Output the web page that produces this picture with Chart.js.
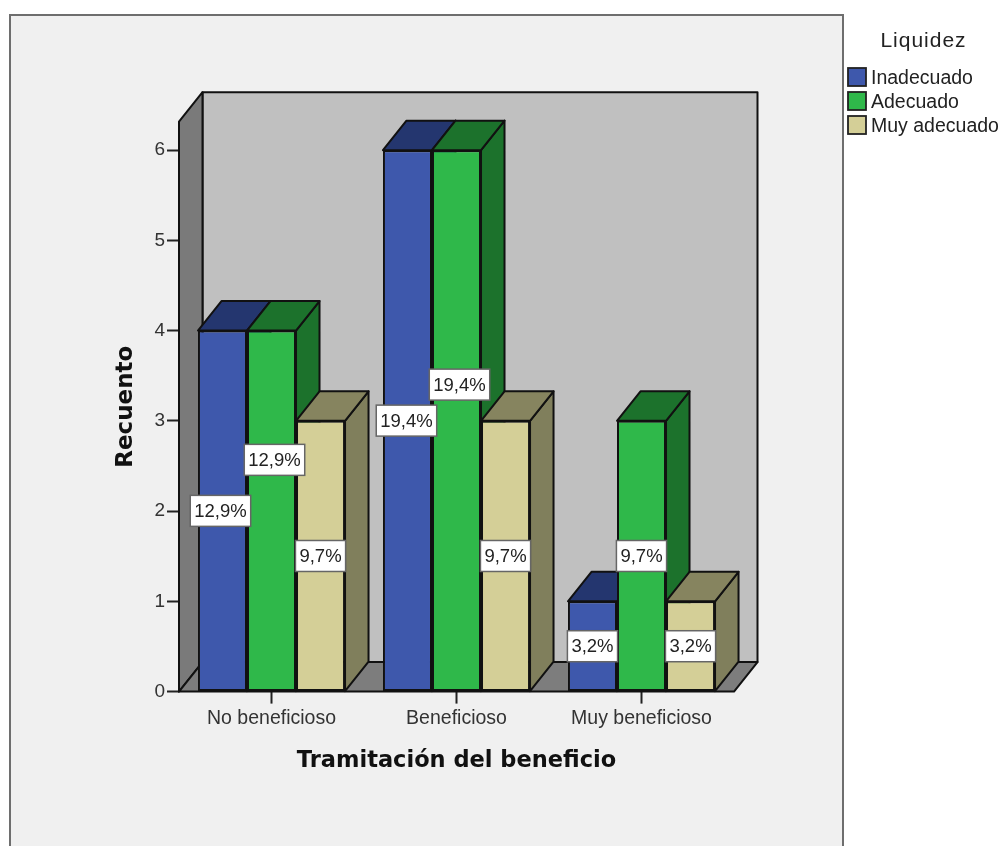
<!DOCTYPE html>
<html>
<head>
<meta charset="utf-8">
<title>Recuento</title>
<script src="https://cdn.jsdelivr.net/npm/chart.js@4"></script>
<style>
html, body { margin: 0; padding: 0; background: #fff; overflow: hidden; }
#wrap { width: 1000px; height: 846px; position: relative; }
</style>
</head>
<body>
<div id="wrap"><canvas id="chart" width="1000" height="846"></canvas></div>
<script>
const categories = ['No beneficioso', 'Beneficioso', 'Muy beneficioso'];
const seriesNames = ['Inadecuado', 'Adecuado', 'Muy adecuado'];
const inadecuado = [4, 6, 1];
const adecuado = [4, 6, 3];
const muyAdecuado = [3, 3, 1];
const inadecuadoPct = ['12,9%', '19,4%', '3,2%'];
const adecuadoPct = ['12,9%', '19,4%', '9,7%'];
const muyAdecuadoPct = ['9,7%', '9,7%', '3,2%'];
const yTicks = [0, 1, 2, 3, 4, 5, 6];

const FRONT = ['#3e58ac', '#2fb84a', '#d4cf97'];
const TOP = ['#24366f', '#1c722c', '#86845f'];
const SIDE = ['#24366f', '#1c722c', '#807f5c'];
const pcts = [inadecuadoPct, adecuadoPct, muyAdecuadoPct];
const DX = 23.5, DY = 29.5; // depth of the fake 3D
const LINE = '#111';

// labels that would collide get pushed away from the bar centre, [series][category]
const NUDGE = [
    [[-2, 0], [-1, 0], [0, 0]],
    [[3, -51], [3, -36], [0, 0]],
    [[0, 0], [0, 0], [0, 0]]
];

function poly(ctx, pts, fill) {
    ctx.beginPath();
    ctx.moveTo(pts[0][0], pts[0][1]);
    pts.slice(1).forEach(p => ctx.lineTo(p[0], p[1]));
    ctx.closePath();
    ctx.fillStyle = fill;
    ctx.fill();
    ctx.lineWidth = 2;
    ctx.strokeStyle = LINE;
    ctx.lineJoin = 'round';
    ctx.stroke();
}

const scene = {
    id: 'scene',
    beforeDraw(chart) {
        const ctx = chart.ctx;
        // grey panel, runs off the bottom of the picture
        ctx.save();
        ctx.fillStyle = '#f0f0f0';
        ctx.fillRect(10, 15, 833, 840);
        ctx.strokeStyle = '#6e6e6e';
        ctx.lineWidth = 2;
        ctx.strokeRect(10, 15, 833, 840);
        ctx.restore();
    },
    beforeDatasetsDraw(chart) {
        const ctx = chart.ctx;
        const a = chart.chartArea;
        ctx.save();
        // walls
        poly(ctx, [[a.left + DX, a.top - DY], [a.right + DX, a.top - DY], [a.right + DX, a.bottom - DY], [a.left + DX, a.bottom - DY]], '#c0c0c0');
        poly(ctx, [[a.left, a.top], [a.left + DX, a.top - DY], [a.left + DX, a.bottom - DY], [a.left, a.bottom]], '#7a7a7a');
        poly(ctx, [[a.left, a.bottom], [a.left + DX, a.bottom - DY], [a.right + DX, a.bottom - DY], [a.right, a.bottom]], '#7d7d7d');
        // top and side faces of the bars, left to right
        categories.forEach((c, i) => {
            chart.data.datasets.forEach((ds, d) => {
                const el = chart.getDatasetMeta(d).data[i];
                const l = el.x - el.width / 2, r = el.x + el.width / 2;
                poly(ctx, [[r, el.y], [r + DX, el.y - DY], [r + DX, el.base - DY], [r, el.base]], SIDE[d]);
                poly(ctx, [[l, el.y], [l + DX, el.y - DY], [r + DX, el.y - DY], [r, el.y]], TOP[d]);
            });
        });
        ctx.restore();
    },
    afterDatasetsDraw(chart) {
        const ctx = chart.ctx;
        ctx.save();
        // percent labels
        ctx.font = '18.5px "Liberation Sans"';
        ctx.textAlign = 'center';
        ctx.textBaseline = 'middle';
        chart.data.datasets.forEach((ds, d) => {
            chart.getDatasetMeta(d).data.forEach((el, i) => {
                const w = ctx.measureText(pcts[d][i]).width + 8;
                const cx = el.x + NUDGE[d][i][0], cy = (el.y + el.base) / 2 + NUDGE[d][i][1];
                ctx.fillStyle = '#fff';
                ctx.fillRect(cx - w / 2, cy - 15.5, w, 31);
                ctx.strokeStyle = '#666';
                ctx.lineWidth = 1.5;
                ctx.strokeRect(cx - w / 2, cy - 15.5, w, 31);
                ctx.fillStyle = '#222';
                ctx.fillText(pcts[d][i], cx, cy + 1);
            });
        });
        // legend
        ctx.textAlign = 'left';
        ctx.font = '19.5px "Liberation Sans"';
        chart.data.datasets.forEach((ds, d) => {
            const y = 77 + d * 24;
            ctx.fillStyle = FRONT[d];
            ctx.fillRect(848, y - 9, 18, 18);
            ctx.strokeStyle = '#222';
            ctx.lineWidth = 1.8;
            ctx.strokeRect(848, y - 9, 18, 18);
            ctx.fillStyle = '#222';
            ctx.fillText(ds.label, 871, y + 1.5);
        });
        ctx.textAlign = 'center';
        ctx.font = '21px "Liberation Sans"';
        ctx.letterSpacing = '1px';
        ctx.fillText('Liquidez', 923.5, 41);
        ctx.restore();
    }
};

function bars(name, values, d) {
    return {
        label: name,
        data: values,
        backgroundColor: FRONT[d],
        borderColor: LINE,
        borderWidth: 2,
        borderSkipped: false,
        barPercentage: 1,
        categoryPercentage: 0.795
    };
}

new Chart(document.getElementById('chart'), {
    type: 'bar',
    data: {
        labels: categories,
        datasets: [
            bars(seriesNames[0], inadecuado, 0),
            bars(seriesNames[1], adecuado, 1),
            bars(seriesNames[2], muyAdecuado, 2)
        ]
    },
    plugins: [scene],
    options: {
        responsive: false,
        animation: false,
        layout: { padding: { left: 0, right: 266, top: 121.7, bottom: 0 } },
        plugins: { legend: { display: false }, tooltip: { enabled: false } },
        scales: {
            x: {
                afterFit(s) { s.height = 154.4; },
                grid: { offset: false, drawOnChartArea: false, color: '#222', tickLength: 12, tickWidth: 2 },
                border: { display: false },
                ticks: { color: '#333', font: { family: 'Liberation Sans', size: 19.5 }, padding: 3.5, maxRotation: 0 },
                title: {
                    display: true,
                    text: 'Tramitación del beneficio',
                    color: '#111',
                    font: { family: 'DejaVu Sans', size: 22.5, weight: 'bold' },
                    padding: { top: 0, bottom: 71 }
                }
            },
            y: {
                min: 0,
                max: 6.315,
                afterFit(s) { s.width = 179; },
                afterBuildTicks(s) { s.ticks = yTicks.map(v => ({ value: v })); },
                grid: { drawOnChartArea: false, color: '#222', tickLength: 12, tickWidth: 2 },
                border: { display: false },
                ticks: { color: '#333', font: { family: 'Liberation Sans', size: 19 }, padding: 2 },
                title: {
                    display: true,
                    text: 'Recuento',
                    color: '#111',
                    font: { family: 'DejaVu Sans', size: 23, weight: 'bold' },
                    padding: { top: 112, bottom: 0 }
                }
            }
        }
    }
});
</script>
</body>
</html>
